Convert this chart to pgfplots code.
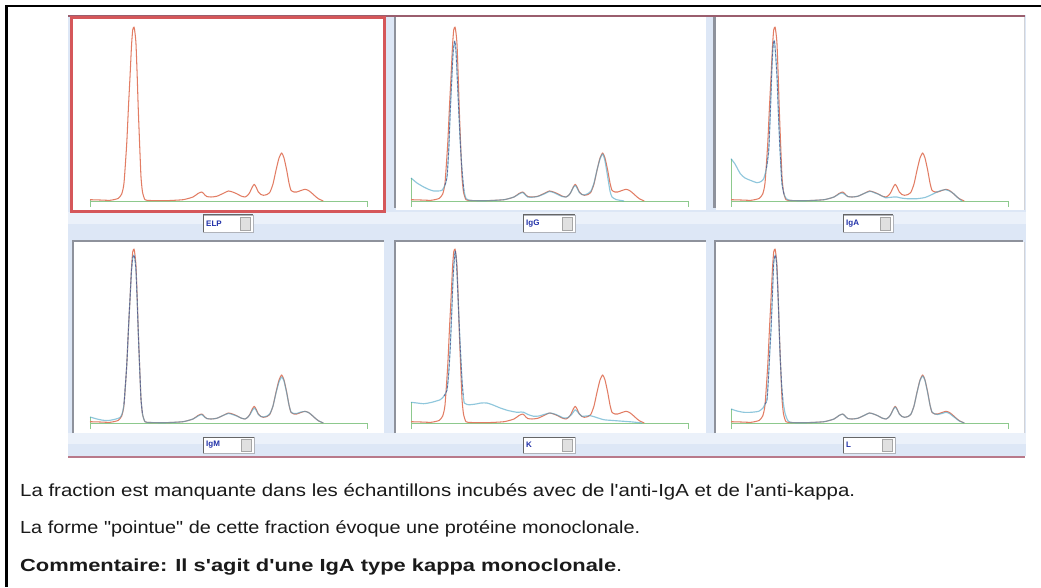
\documentclass[border=0pt]{standalone}
\usepackage{graphicx}
\usepackage{pgfplots}
\pgfplotsset{compat=1.18}
\usepackage{pgfplotstable}
\usepackage{fontspec}
\setmainfont{Liberation Sans}

\definecolor{refcurve}{HTML}{E27D64}
\definecolor{subcurve}{HTML}{46A2C6}
\definecolor{overlap}{HTML}{4F4A88}
\definecolor{basegreen}{HTML}{8DC98D}
\definecolor{panelbg}{HTML}{DDE7F6}
\definecolor{selred}{HTML}{D5575A}
\definecolor{topline}{HTML}{9A5E6E}
\definecolor{botline}{HTML}{B8798A}
\definecolor{framegrey}{HTML}{8E929C}
\definecolor{labelblue}{HTML}{1F2FA8}
\definecolor{bodytext}{HTML}{1A1A1A}

\newcommand\ap{\textquotesingle}

% serum protein profile (reference trace, distance along the strip vs. density)
\pgfplotstableread{
x y
0 1.3
10 1.0
20 0.7
28 2.5
31.7 7
34 18
36.7 57
38.5 95
40 124
41.5 155
42.7 171
44 174
45 168
46 157
47.2 125
48.3 91
49.7 55
51 24
52.5 9
55 1.3
60 0.5
75 0.3
93 1.3
103 4
108 7.5
111.7 9
114 7
116.7 4.5
121 4
126.7 4.7
133 7.5
138.3 10
142.5 9
146.7 7.3
151 5
155 4
158 6
160 9
162.3 14
164.3 16.7
166.3 13.5
168.3 9
171 6.5
173.3 5.7
177 6.5
180 9
183 17
186 30.7
189 43
191.7 48
194 43
196.7 30.7
199 18
201 10.7
204 9
206.7 9
211 10.5
215 11.7
218.5 10.5
221.7 8
225 5
228.3 2.3
233.3 0
}\elp

% anti-IgG
\pgfplotstableread{
x y
0 23
6 18
12.7 14
18 11.5
22.7 10
27 10
31 10.7
34 16
36 24
37.7 50
39.3 91
40.7 120
42 147
43.7 160
45 150
46.3 122
47.7 91
49.3 58
51 31
53 10
55.3 2.3
60 0.5
75 0.3
93 1.3
103 4
108 7
111.7 8.5
114 6.5
116.7 4
121 3.8
126.7 4.5
133 7
138.3 9.5
142.5 8.5
146.7 6.5
151 4.5
155 4
158 6
160 9
162.3 13.5
164.3 15.5
166.3 12.5
168.3 8.5
171 6.5
173.3 6
177 7.5
180 10
183 18
186 31
189 42
191.7 47
194 40
196.7 24
199 10
201 4
205 1.5
209 0.7
213 0
}\igg

% anti-IgA
\pgfplotstableread{
x y
0 42.3
4 37
9.3 27.3
14 23
19.3 20.7
26 18.3
30 19.5
32.7 22.3
35.5 33
37.7 50.7
39 80
40 107
41 135
42 154
43.3 160.7
44.5 148
46 124
47.3 90
48.7 57
50 32
51 17
53 7
55.3 2.3
60 0.5
75 0.3
93 1.3
103 4
108 7
111 8
114 6.5
116.7 4.5
121 4
126.7 4.7
133 7.5
139.3 9.7
144 8
148 6.5
154.3 3.3
158 3.5
162.7 4
166 4
170 3
176 2.3
186 2.3
194 3.5
199.3 5.7
203 7.5
206 9
210 10.5
214.3 11.3
218.5 10
222.7 7.3
226.5 3.5
231 0
}\iga

% anti-IgM
\pgfplotstableread{
x y
0 6
7 4
13.3 2.7
20 2.7
26 4
30 5.5
32 9
34 19
36.7 57
38.5 95
40 124
41.5 152
42.7 165
44 168
45 163
46 152
47.2 122
48.3 90
49.7 54
51 24
52.5 9
55 1.3
60 0.5
75 0.3
93 1.3
103 4
108 7
111.7 8.5
114 6.5
116.7 4.5
121 4
126.7 4.7
133 7.5
138.3 9.5
142.5 8.5
146.7 7
151 5
155 4
158 6
160 8.5
162.3 12.5
164.3 15
166.3 12.5
168.3 8.5
171 6.5
173.3 6
177 7
180 9.5
183 17
186 30
189 41
191.7 46
194 42
196.7 30
199 18
201 11
204 9.5
206.7 9.5
211 11
215 11.5
218.5 10.5
221.7 8
225 5
228.3 2.3
233.3 0
}\igm

% anti-kappa
\pgfplotstableread{
x y
0 20.7
6 20
12.7 19.3
20 20.5
29.3 23.3
33 27
36 33
37.7 50
39.3 77
40.7 110
42 143
43.2 162
44.3 172
45.5 160
46.5 138
47.7 110
49.3 75
51 43
52.2 28
53.3 20
56 18.5
59.3 18.3
65 19
70 20
76 20
82 18
89.3 15
97 12.5
106 10.7
110 11
112.7 10.7
117 8.5
122.7 6.7
128 7
133 8.5
139.3 10
145 8.5
152.7 5
157 5.5
161 9
164.3 13.3
167.5 10
171 6.7
175 7
179.3 7.3
184 6
192.7 3.3
202 2.5
212.7 1.7
222 1
231 0
}\kap

% anti-lambda
\pgfplotstableread{
x y
0 14
6 12
12.7 10.7
20 10.7
27.7 11.7
32 15
34 19
36 23.3
37.7 50
39 75
40 93
41.5 130
42.7 160
44.3 168
45.5 160
46.5 140
47.7 110
49 70
50.5 40
52 22
54 10
56.5 3
60 0.5
75 0.3
93 1.3
103 4
108 7.5
111.7 9
114 7
116.7 4.5
121 4
126.7 4.7
133 7.5
138.3 10
142.5 9
146.7 7.3
151 5
155 4
158 6
160 9
162.3 13.5
164.3 16
166.3 13
168.3 9
171 6.5
173.3 5.7
177 6.5
180 9
183 17
186 30.5
189 42.5
191.7 47
194 42.5
196.7 30
199 18
201 11
204 9
206.7 8.5
211 9.5
215 10.7
218.5 9.5
221.7 7
225 4.5
228.3 2
233.3 0
}\lam

\pgfplotsset{
  panelaxis/.style={x=1pt, y=1pt, xmin=-2, xmax=280, ymin=-8, ymax=182,
    hide axis, clip=false, anchor=south west},
  refline/.style={refcurve, line width=1.05pt, smooth, tension=0.35, line join=round},
  subline/.style={subcurve, opacity=0.6, line width=1.15pt, smooth, tension=0.35, line join=round},
  dashline/.style={overlap, opacity=0.75, line width=0.75pt, dash pattern=on 2.5pt off 1.8pt,
    restrict x to domain=33:53, smooth, tension=0.35},
  baseline/.style={basegreen, line width=0.9pt},
}

% one densitometry panel: x origin, baseline height, immunofixation trace, start height
\newcommand{\densitopanel}[4]{%
  \begin{axis}[panelaxis, at={(#1-2,#2-8)}]
    \addplot[baseline] coordinates {(0,-6) (0,0) (277,0) (277,-6)};
    \addplot[baseline] coordinates {(0,0) (0,#4)};
    \addplot[refline] table {\elp};
    \ifx#3\relax\else
      \addplot[subline] table {#3};
      \addplot[dashline] table {#3};
    \fi
  \end{axis}}

% label field under a panel
\newcommand{\labelbox}[5]{% x1 y1 x2 y2 text
  \fill[white] (#1,#2) rectangle (#3,#4);
  \draw[framegrey!70, line width=0.7pt] (#1,#2) rectangle (#3,#4);
  \draw[black!60, line width=1pt] (#1,#4) -- (#1,#2) -- (#3,#2);
  \fill[black!12] (#3-13,#2+2.5) rectangle (#3-2.5,#4-2);
  \draw[black!35, line width=0.5pt] (#3-13,#2+2.5) rectangle (#3-2.5,#4-2);
  \node[anchor=west, inner sep=0pt, text=labelblue, font=\fontsize{8}{9}\selectfont\bfseries]
    at (#1+3,{(#2+#4)/2}) {#5};
}

\begin{document}
\begin{tikzpicture}[x=1pt, y=1pt]
\useasboundingbox (0,0) rectangle (1041,587);
\fill[white] (0,0) rectangle (1041,587);

\begin{scope}[shift={(0,587)}, yscale=-1]
  % page frame
  \fill[black] (5,5) rectangle (8,587);
  \fill[black] (5,5) rectangle (1041,7.5);

  % viewer background
  \fill[panelbg] (68,15) rectangle (1026,456);
  \fill[panelbg!60!white] (68,212) rectangle (1026,224);
  \fill[panelbg!60!white] (68,433) rectangle (1026,444);

  % plotting areas
  \fill[white] (70,16) rectangle (386,213);
  \fill[white] (396,17) rectangle (706,210);
  \fill[white] (716,17) rectangle (1024,210);
  \fill[white] (74,242) rectangle (384,433);
  \fill[white] (396,242) rectangle (706,433);
  \fill[white] (716,242) rectangle (1024,433);

  % sunken frames
  \draw[framegrey, line width=2.5pt] (395,17) -- (395,208);
  \draw[framegrey, line width=2.5pt] (714.5,17) -- (714.5,208);
  \draw[framegrey!40, line width=1pt] (1024.5,17) -- (1024.5,210);
  \draw[framegrey, line width=2.5pt] (73,433) -- (73,241) -- (384,241);
  \draw[framegrey, line width=2.5pt] (395,433) -- (395,241) -- (706,241);
  \draw[framegrey, line width=2.5pt] (715,433) -- (715,241) -- (1023,241);
  \draw[framegrey!40, line width=1pt] (1024.5,242) -- (1024.5,433);

  % top and bottom rules
  \draw[topline, line width=2.5pt] (68,16) -- (1025,16);
  \draw[botline, line width=2pt] (68,457) -- (1025,457);

  % selected panel
  \draw[selred, line width=3pt] (71.5,17.5) rectangle (384.5,211.5);
\end{scope}

% densitometry traces
\densitopanel{90}{386}{\relax}{2}
\densitopanel{411}{386}{\igg}{23}
\densitopanel{731}{386}{\iga}{42}
\densitopanel{90}{164}{\igm}{6}
\densitopanel{411}{164}{\kap}{21}
\densitopanel{731}{164}{\lam}{14}

\begin{scope}[shift={(0,587)}, yscale=-1]
  \labelbox{203}{215}{253}{232}{ELP}
  \labelbox{523}{215}{575}{232}{IgG}
  \labelbox{843}{215}{893}{232}{IgA}
  \labelbox{203}{437}{254}{453}{IgM}
  \labelbox{523}{437}{575}{453}{K}
  \labelbox{843}{437}{895}{453}{L}

  % comments below the panels
  \begin{scope}[every node/.style={anchor=base west, inner sep=0pt, text=bodytext,
      font=\fontsize{17.5}{20}\selectfont}]
    \node at (20,496) {\resizebox{835pt}{\height}{La fraction est manquante dans les échantillons incubés avec de l\ap anti-IgA et de l\ap anti-kappa.}};
    \node at (20,533) {\resizebox{620pt}{\height}{La forme \textquotedbl pointue\textquotedbl\ de cette fraction évoque une protéine monoclonale.}};
    \node at (20,571) {\resizebox{602pt}{\height}{{\bfseries Commentaire: Il s\ap agit d\ap une IgA type kappa monoclonale}.}};
  \end{scope}
\end{scope}
\end{tikzpicture}
\end{document}
